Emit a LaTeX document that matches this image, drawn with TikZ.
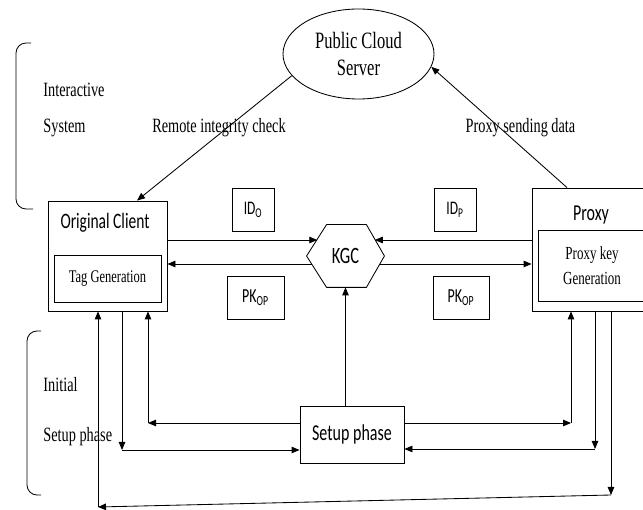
\documentclass[tikz,border=0pt]{standalone}
\usepackage{fontspec}
\setmainfont{Liberation Serif}
\newfontfamily\calib{Carlito}
\usepackage{graphicx}
\usetikzlibrary{arrows.meta,shapes.geometric}
\newcommand\vs[1]{\scalebox{1}[1.42]{#1}}
\begin{document}
\begin{tikzpicture}[x=1pt,y=-1pt,line width=0.85pt,
  arr/.style={-{Triangle[length=8pt,width=6.5pt]}},
  box/.style={draw, rectangle, inner sep=0pt},
  lbl/.style={inner sep=0pt, font=\fontsize{14.3}{17}\selectfont},
  sans/.style={inner sep=0pt, font=\calib\fontsize{16}{19}\selectfont}]
\useasboundingbox (0,0) rectangle (643,510);
\clip (0,0) rectangle (643,510);

% main nodes
\node[box, ellipse, minimum width=151pt, minimum height=90pt, align=center,
      font=\fontsize{16.5}{27}\selectfont] (cloud) at (358.5,54) {\vs{Public Cloud}\\\vs{Server}};
\node[box, minimum width=119pt, minimum height=110pt] (client) at (107.5,256) {};
\node[sans, font=\calib\fontsize{15.5}{18}\selectfont] (clientlbl) at (105,223) {\vs{Original Client}};
\node[box, minimum width=107pt, minimum height=47pt, font=\fontsize{12.5}{15}\selectfont] (tag) at (107.5,278.5) {\vs{Tag Generation}};

\node[box, minimum width=120pt, minimum height=123pt] (proxy) at (592,249.5) {};
\node[sans] (proxylbl) at (591,215) {\vs{Proxy}};
\node[box, minimum width=108pt, minimum height=71pt, align=center,
      font=\fontsize{13}{25}\selectfont] (pkey) at (592,265.5) {\vs{Proxy key}\\\vs{Generation}};

\node[inner sep=0pt, minimum width=77pt, minimum height=62pt,
      font=\calib\fontsize{16.5}{19}\selectfont] (kgc) at (345.5,256) {\vs{KGC}};
\draw (kgc.west) -- ([xshift=20pt]kgc.north west) -- ([xshift=-18pt]kgc.north east)
  -- (kgc.east) -- ([xshift=-18pt]kgc.south east) -- ([xshift=20pt]kgc.south west) -- cycle;

\node[box, minimum width=42pt, minimum height=43pt, font=\calib\fontsize{13.5}{16}\selectfont] (ido) at (253,209.5) {\vs{ID\textsubscript{O}}};
\node[box, minimum width=42pt, minimum height=43pt, font=\calib\fontsize{13.5}{16}\selectfont] (idp) at (455,209.5) {\vs{ID\textsubscript{P}}};
\node[box, minimum width=57pt, minimum height=43pt, font=\calib\fontsize{14}{16}\selectfont] (pko) at (255.5,297.5) {\vs{PK\textsubscript{OP}}};
\node[box, minimum width=56pt, minimum height=43pt, font=\calib\fontsize{14}{16}\selectfont] (pkp) at (461,297.5) {\vs{PK\textsubscript{OP}}};

\node[box, minimum width=104pt, minimum height=57pt, font=\calib\fontsize{16}{19}\selectfont] (setup) at (352,434.5) {\vs{Setup phase}};

% labels
\node[lbl, anchor=west] (inter) at (43,90) {\vs{Interactive}};
\node[lbl, anchor=west] (system) at (43,128) {\vs{System}};
\node[lbl] (remote) at (219,128) {\vs{Remote integrity check}};
\node[lbl] (sending) at (520.5,128) {\vs{Proxy sending data}};
\node[lbl, anchor=west] (initial) at (43,385) {\vs{Initial}};
\node[lbl, anchor=west] (setuplbl) at (43,437) {\vs{Setup phase}};

% brackets
\draw[rounded corners=10pt] (31,43) -- (16,43) -- (16,209) -- (33,209);
\draw[rounded corners=10pt] (41,331) -- (27,331) -- (27,495) -- (41,495);

% cloud connectors
\draw[arr] (cloud.198) -- ([xshift=29.5pt]client.north);
\draw[arr] ([xshift=-25pt]proxy.north) -- (cloud.350);

% KGC connectors
\coordinate (kL1) at (317.3,240);
\coordinate (kR1) at (374.8,240);
\coordinate (kL2) at (312.2,264);
\coordinate (kR2) at (379.1,264);
\draw[arr] (client.east |- kL1) -- (kL1);
\draw[arr] (proxy.west |- kR1) -- (kR1);
\draw[arr] (kL2) -- (client.east |- kL2);
\draw[arr] (kR2) -- (proxy.west |- kR2);

% setup connectors
\coordinate (cA) at (122,450);
\coordinate (cB) at (148,423);
\coordinate (cC) at (98,507);
\coordinate (cD) at (611,495);
\coordinate (cE) at (571,423);
\coordinate (cF) at (595,449);
\draw[arr] (client.south -| cA) -- (cA);
\draw[arr] (cA) -- (setup.west |- cA);
\draw[arr] (setup.west |- cB) -- (cB);
\draw[arr] (cB) -- (client.south -| cB);
\draw[arr] (proxy.south -| cD) -- (cD);
\draw[arr] (cD) -- (cC);
\draw[arr] (cC) -- (client.south -| cC);
\draw[arr] (setup.east |- cE) -- (cE);
\draw[arr] (cE) -- (proxy.south -| cE);
\draw[arr] (proxy.south -| cF) -- (cF);
\draw[arr] (cF) -- (setup.east |- cF);
\draw[arr] (setup.north -| kgc.south) -- (kgc.south);
\end{tikzpicture}
\end{document}
